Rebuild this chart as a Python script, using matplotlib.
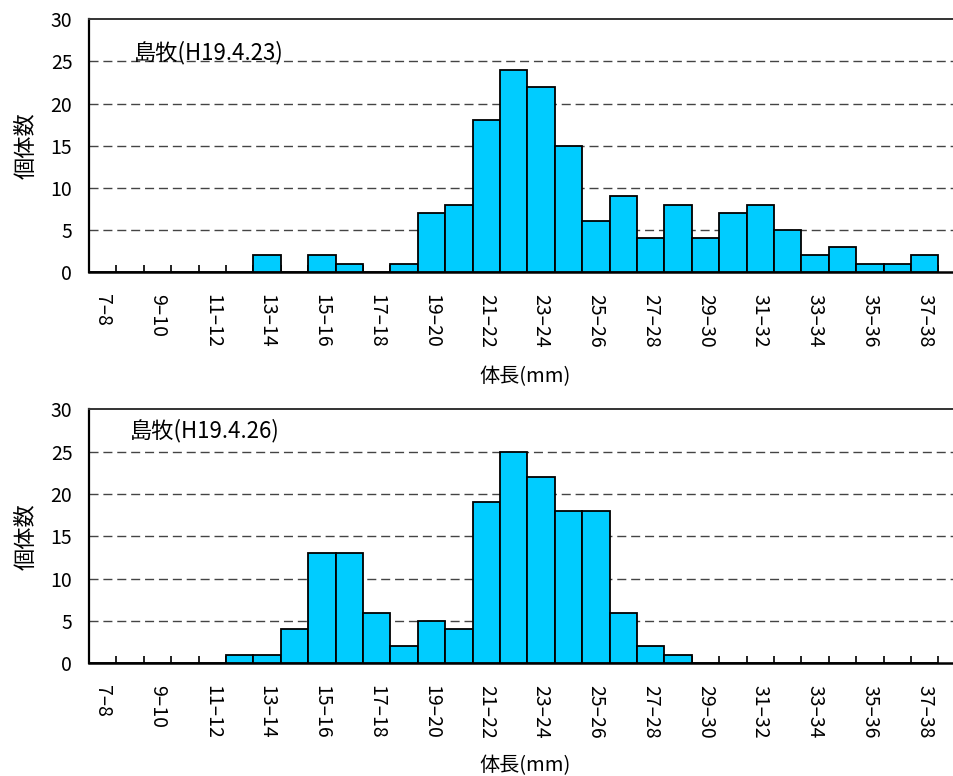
import matplotlib
matplotlib.use("Agg")
import matplotlib.pyplot as plt
from matplotlib.ticker import FixedLocator, FixedFormatter, NullLocator
import numpy as np

plt.rcParams['font.family'] = ['Noto Sans CJK JP', 'DejaVu Sans']

# Body-length classes (mm)
categories = ["7–8", "8–9", "9–10", "10–11", "11–12", "12–13", "13–14", "14–15",
              "15–16", "16–17", "17–18", "18–19", "19–20", "20–21", "21–22", "22–23",
              "23–24", "24–25", "25–26", "26–27", "27–28", "28–29", "29–30", "30–31",
              "31–32", "32–33", "33–34", "34–35", "35–36", "36–37", "37–38"]

# Counts per class, survey of H19.4.23
counts_0423 = [0, 0, 0, 0, 0, 0, 2, 0, 2, 1, 0, 1, 7, 8, 18, 24,
               22, 15, 6, 9, 4, 8, 4, 7, 8, 5, 2, 3, 1, 1, 2]
# Counts per class, survey of H19.4.26
counts_0426 = [0, 0, 0, 0, 0, 1, 1, 4, 13, 13, 6, 2, 5, 4, 19, 25,
               22, 18, 18, 6, 2, 1, 0, 0, 0, 0, 0, 0, 0, 0, 0]

panel_titles = ["島牧(H19.4.23)", "島牧(H19.4.26)"]
y_ticks = [0, 5, 10, 15, 20, 25, 30]

fig = plt.figure(figsize=(9.54, 7.76), dpi=100)

W, H = 954, 776
left_px = 89
cat_px = 27.4
x_right = -0.5 + (W - left_px) / cat_px
tick_px = 7.5


def panel(rect, counts, title, title_xy, xlabel_y):
    ax = fig.add_axes(rect)
    x = np.arange(len(categories))
    ax.set_axisbelow(True)
    ax.bar(x, counts, width=1.0, color="#00CCFF", edgecolor="black",
           linewidth=1.3, zorder=3)
    ax.set_xlim(-0.5, x_right)
    ax.set_ylim(0, 30)
    ax.set_yticks(y_ticks)
    ax.set_yticklabels([str(v) for v in y_ticks], fontsize=14)
    ax.tick_params(axis="y", length=0, pad=12)
    for v in y_ticks[1:-1]:
        ax.axhline(v, color="#444444", linewidth=1.0, dashes=(6.5, 3.5), zorder=1)

    # inward marks on every class boundary, drawn beneath the bars
    ax_h_px = rect[3] * H
    ax.vlines(np.arange(len(categories) + 1) - 0.5, 0, tick_px / ax_h_px,
              transform=ax.get_xaxis_transform(), colors="#222222",
              linewidth=1.4, zorder=2)

    # labels on every other class
    lab_idx = x[::2]
    ax.xaxis.set_major_locator(FixedLocator(lab_idx))
    ax.xaxis.set_major_formatter(FixedFormatter([categories[i] for i in lab_idx]))
    ax.xaxis.set_minor_locator(NullLocator())
    ax.tick_params(axis="x", which="major", length=0, pad=15.5,
                   labelsize=14, labelrotation=-90)

    ax.spines["right"].set_visible(False)
    ax.spines["left"].set_linewidth(1.6)
    ax.spines["bottom"].set_linewidth(1.8)
    ax.spines["top"].set_linewidth(1.4)
    ax.spines["top"].set_color("#333333")

    ax.set_ylabel("個体数", fontsize=16)
    ax.yaxis.set_label_coords(-0.06, 0.5)
    ax.set_xlabel("体長(mm)", fontsize=14.5)
    ax.xaxis.set_label_coords(0.504, xlabel_y)
    ax.text(title_xy[0], title_xy[1], title, transform=ax.transAxes,
            fontsize=16, ha="left", va="center")
    return ax


ax_w = (W - left_px) / W
panel([left_px / W, 1 - 272 / H, ax_w, (272 - 19.3) / H], counts_0423,
      panel_titles[0], (0.052, 0.867), -0.372)
panel([left_px / W, 1 - 663.3 / H, ax_w, (663.3 - 409.3) / H], counts_0426,
      panel_titles[1], (0.047, 0.918), -0.361)

fig.savefig("out.png", dpi=100)
